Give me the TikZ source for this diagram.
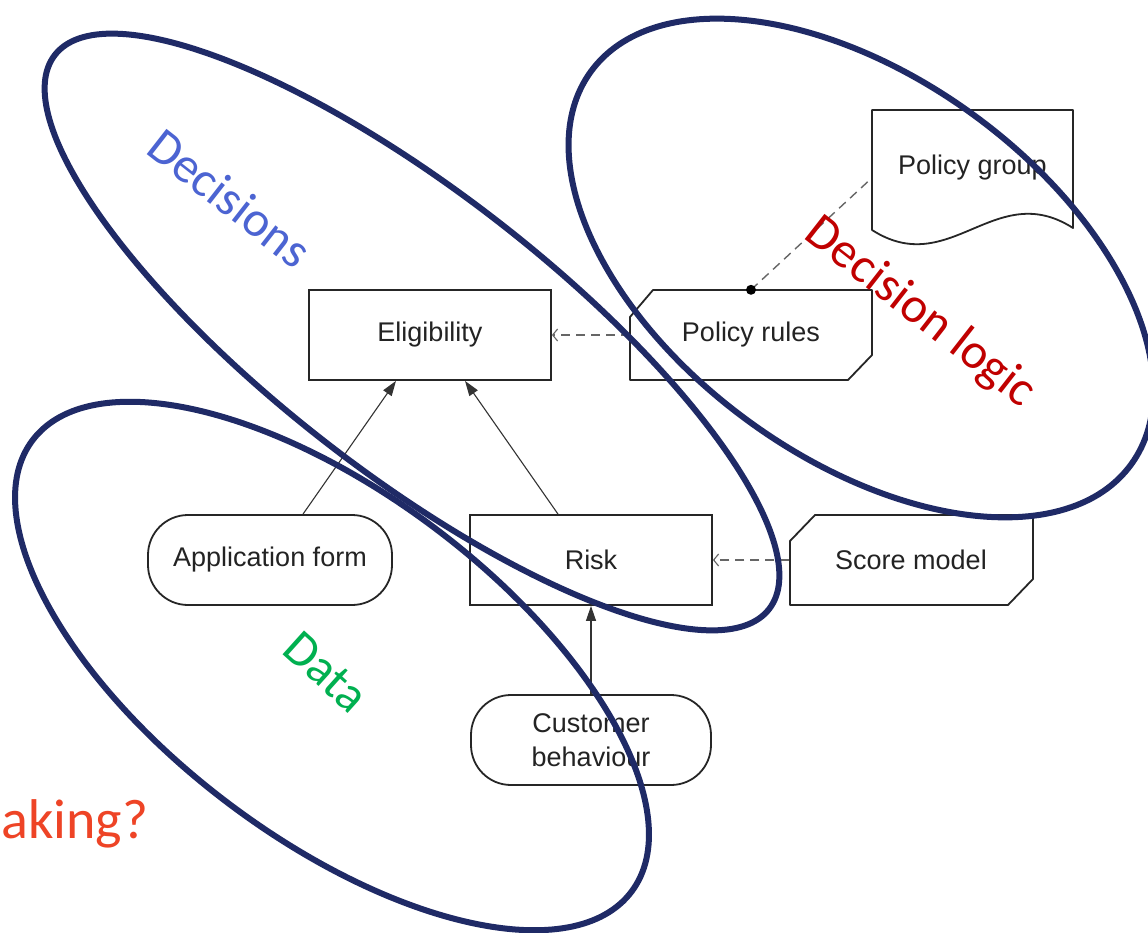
\documentclass[tikz,border=0pt]{standalone}
\usepackage{fontspec}
\setmainfont{Liberation Sans}
\newfontfamily\tagfont{Carlito}
\usetikzlibrary{arrows.meta,calc}

\definecolor{ringblue}{RGB}{31,42,102}
\definecolor{inktext}{RGB}{35,35,35}
\definecolor{decblue}{RGB}{76,100,210}
\definecolor{logicred}{RGB}{192,0,0}
\definecolor{datagreen}{RGB}{0,176,80}
\definecolor{askorange}{RGB}{238,68,38}

\tikzset{
  boxfont/.style={font=\fontsize{27}{34}\selectfont, text=inktext},
  block/.style={boxfont, draw=black!85, line width=1.8pt, fill=white,
    minimum width=242pt, minimum height=90pt, inner sep=0pt},
  stadium/.style={block, rounded corners=40pt},
  shapetext/.style={boxfont, minimum width=242pt, minimum height=90pt, inner sep=0pt},
  outline/.style={draw=black!85, line width=1.8pt, fill=white, line join=round},
  flow/.style={draw=black!80, line width=1.1pt, -{Triangle[length=15pt,width=10pt]}},
  ref/.style={draw=black!60, line width=1.4pt, dash pattern=on 9pt off 6pt,
    -{Straight Barb[length=5pt,width=12pt,line width=1.1pt]}},
  link/.style={draw=black!60, line width=1.4pt, dash pattern=on 9pt off 6pt},
  ring/.style={draw=ringblue, line width=6pt},
  tag/.style={font=\tagfont\fontsize{50}{60}\selectfont, inner sep=0pt}
}

\begin{document}
\begin{tikzpicture}[x=1pt,y=-1pt]
\useasboundingbox[fill=white] (0,0) rectangle (1148,933);

% outlines of the special shapes
\draw[outline] (872,110) -- (1073,110) -- (1073,228)
  .. controls (995,178) and (950,280) .. (872,230) -- cycle;
\draw[outline] (653,290) -- (872,290) -- (872,355) -- (848,380)
  -- (630,380) -- (630,317) -- cycle;
\draw[outline] (815,515) -- (1033,515) -- (1033,579) -- (1008,605)
  -- (790,605) -- (790,541) -- cycle;

% nodes
\node[block] (elig) at (430,335) {Eligibility};
\node[block] (risk) at (591,560) {Risk};
\node[stadium, minimum width=244pt] (app) at (270,560) {Application form};
\node[stadium, align=center, minimum width=240pt] (cust) at (591,740) {Customer\\behaviour};
\node[shapetext, minimum width=242pt] (rules) at (751,335) {Policy rules};
\node[shapetext, minimum width=243pt] (score) at (911,560) {Score model};
\node[shapetext, minimum width=201pt, minimum height=120pt] (group) at (972.5,170)
  {\raisebox{10pt}{Policy group}};

% connectors
\draw[flow] ($(app.north)+(33,0)$) -- ($(elig.south)+(-34,0)$);
\draw[flow] ($(risk.north)+(-33,0)$) -- ($(elig.south)+(35,0)$);
\draw[flow] (cust.north) -- (risk.south);
\draw[ref] (rules.west) -- (elig.east);
\draw[ref] (score.west) -- (risk.east);
\coordinate (joint) at (rules.north);
\draw[link] (joint) -- ($(group.west)+(0,8)$);
\fill[black] (joint) circle (5pt);

% grouping rings
\draw[ring, rotate around={-37.8:(412,332)}] (412,332) ellipse [x radius=452, y radius=140];
\draw[ring, rotate around={-36:(861,268)}] (861,268) ellipse [x radius=334, y radius=190];
\draw[ring, rotate around={-37:(332,666)}] (332,666) ellipse [x radius=375, y radius=172];

% ring labels
\node[tag, text=decblue, rotate=-38] (decisions) at (230,198) {Decisions};
\node[tag, text=logicred, rotate=-38] (logic) at (920,313) {Decision logic};
\node[tag, text=datagreen, rotate=-42] (data) at (326,672) {Data};
\node[tag, text=askorange, anchor=base west, font=\tagfont\fontsize{56}{64}\selectfont]
  (ask) at (1,838) {aking?};
\end{tikzpicture}
\end{document}
